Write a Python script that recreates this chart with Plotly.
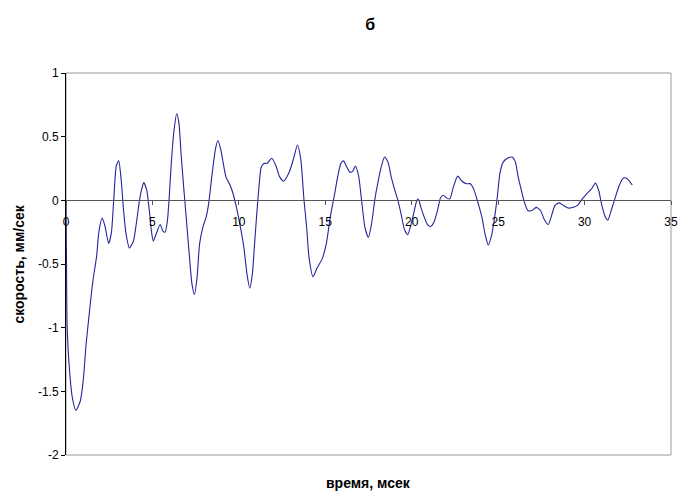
import plotly.graph_objects as go

# ---- data ----
time_ms = [0.0, 0.03, 0.06, 0.2, 0.38, 0.57, 0.82, 1.0, 1.15, 1.29, 1.48, 1.58, 1.77, 1.9,
           2.09, 2.25, 2.47, 2.63, 2.76, 2.91, 3.05, 3.2, 3.33, 3.48, 3.67, 3.9, 4.09, 4.25,
           4.4, 4.5, 4.67, 4.82, 4.95, 5.05, 5.2, 5.45, 5.6, 5.73, 5.86, 5.96, 6.09, 6.25,
           6.4, 6.53, 6.66, 6.81, 6.97, 7.16, 7.29, 7.43, 7.58, 7.73, 7.92, 8.11, 8.25, 8.43,
           8.63, 8.78, 8.95, 9.1, 9.26, 9.49, 9.67, 9.86, 10.09, 10.29, 10.47, 10.63, 10.78,
           10.91, 11.05, 11.16, 11.29, 11.45, 11.63, 11.9, 12.15, 12.34, 12.59, 12.91, 13.16,
           13.39, 13.58, 13.77, 13.92, 14.06, 14.29, 14.53, 14.82, 15.06, 15.29, 15.54, 15.71,
           15.9, 16.06, 16.25, 16.43, 16.59, 16.74, 16.93, 17.1, 17.29, 17.49, 17.67, 17.86,
           18.06, 18.25, 18.43, 18.63, 18.82, 19.0, 19.2, 19.39, 19.58, 19.77, 19.96, 20.15,
           20.3, 20.38, 20.53, 20.72, 20.91, 21.1, 21.29, 21.49, 21.67, 21.83, 22.02, 22.2,
           22.4, 22.66, 22.91, 23.16, 23.39, 23.58, 23.77, 23.92, 24.06, 24.25, 24.43, 24.63,
           24.82, 24.97, 25.1, 25.29, 25.54, 25.81, 26.0, 26.15, 26.34, 26.53, 26.72, 26.95,
           27.2, 27.45, 27.67, 27.9, 28.09, 28.29, 28.53, 28.78, 29.05, 29.35, 29.62, 29.86,
           30.15, 30.4, 30.63, 30.82, 31.0, 31.2, 31.35, 31.54, 31.77, 32.0, 32.25, 32.47,
           32.76]
velocity = [-0.02, -0.5, -0.96, -1.33, -1.56, -1.65, -1.58, -1.41, -1.15, -0.96, -0.72, -0.61,
            -0.44, -0.25, -0.14, -0.2, -0.34, -0.25, 0.0, 0.27, 0.31, 0.15, -0.08, -0.27,
            -0.375, -0.32, -0.16, 0.0, 0.10, 0.14, 0.08, -0.08, -0.25, -0.32, -0.27, -0.19,
            -0.24, -0.25, -0.17, 0.0, 0.29, 0.55, 0.68, 0.61, 0.36, 0.10, -0.16, -0.475, -0.66,
            -0.74, -0.61, -0.34, -0.21, -0.13, -0.03, 0.18, 0.39, 0.47, 0.40, 0.29, 0.18, 0.12,
            0.05, -0.055, -0.21, -0.37, -0.58, -0.69, -0.58, -0.34, -0.08, 0.10, 0.26, 0.29,
            0.29, 0.33, 0.27, 0.19, 0.15, 0.22, 0.325, 0.435, 0.325, 0.0, -0.21, -0.45, -0.60,
            -0.53, -0.46, -0.34, -0.13, 0.05, 0.18, 0.29, 0.31, 0.26, 0.22, 0.23, 0.27, 0.19,
            0.0, -0.21, -0.29, -0.19, 0.0, 0.15, 0.27, 0.34, 0.30, 0.18, 0.09, 0.0, -0.11,
            -0.23, -0.27, -0.19, -0.08, 0.0, 0.01, -0.055, -0.13, -0.19, -0.205, -0.17, -0.08,
            0.02, 0.04, 0.02, 0.01, 0.10, 0.19, 0.15, 0.13, 0.13, 0.09, 0.01, -0.06, -0.13,
            -0.27, -0.35, -0.27, -0.11, 0.05, 0.21, 0.30, 0.33, 0.34, 0.30, 0.19, 0.08, -0.02,
            -0.08, -0.08, -0.055, -0.08, -0.15, -0.19, -0.12, -0.04, -0.02, -0.04, -0.06,
            -0.055, -0.035, 0.01, 0.055, 0.09, 0.135, 0.075, -0.04, -0.13, -0.155, -0.08, 0.02,
            0.115, 0.175, 0.17, 0.12]

x_ticks = [0, 5, 10, 15, 20, 25, 30, 35]
y_ticks = [1, 0.5, 0, -0.5, -1, -1.5, -2]
y_tick_labels = ["1", "0.5", "0", "-0.5", "-1", "-1.5", "-2"]

chart_title = "б"
x_title = "время, мсек"
y_title = "скорость, мм/сек"

FONT = "Liberation Sans, Arial, sans-serif"
W, H = 688, 497
L, R, T, B = 66, 10, 73, 42

fig = go.Figure()
fig.add_trace(go.Scatter(
    x=time_ms, y=velocity, mode="lines",
    line=dict(color="#24249a", width=1.1, shape="spline", smoothing=0.6),
    showlegend=False, hoverinfo="x+y",
))

fig.update_layout(
    width=W, height=H,
    margin=dict(l=L, r=R, t=T, b=B),
    paper_bgcolor="white", plot_bgcolor="white",
    font=dict(family=FONT, size=12, color="#000"),
    title=dict(text=chart_title, x=346 / W, xanchor="center", xref="paper",
               y=1 - 24 / H, yanchor="middle",
               font=dict(family=FONT, size=16, weight="bold", color="#000")),
    shapes=[dict(type="rect", xref="paper", yref="paper", x0=0, x1=1, y0=0, y1=1,
                 line=dict(color="#9a9a9a", width=1), layer="below")],
    annotations=[
        dict(text=x_title, xref="paper", yref="paper", x=0.5, y=-(483 - (H - B)) / (H - T - B),
             xanchor="center", yanchor="middle", showarrow=False,
             font=dict(family=FONT, size=14, weight="bold", color="#000")),
        dict(text=y_title, xref="paper", yref="paper", x=-(L - 18) / (W - L - R), y=0.5,
             xanchor="center", yanchor="middle", textangle=-90, showarrow=False,
             font=dict(family=FONT, size=14, weight="bold", color="#000")),
    ],
)

fig.update_xaxes(
    range=[0, 35], tickvals=x_ticks, ticktext=[str(v) for v in x_ticks],
    showgrid=False, zeroline=False, showline=True, linecolor="#555", linewidth=1,
    ticks="outside", ticklen=4, tickcolor="#555", tickwidth=1,
    anchor="free", position=2 / 3, ticklabelstandoff=6,
    tickfont=dict(family=FONT, size=12, color="#000"),
)
fig.update_yaxes(
    range=[-2, 1], tickvals=y_ticks, ticktext=y_tick_labels,
    showgrid=False, zeroline=False, showline=True, linecolor="#000", linewidth=1,
    ticks="outside", ticklen=4, tickcolor="#000", tickwidth=1,
    tickfont=dict(family=FONT, size=12, color="#000"),
)

fig.write_html("out.html", config={"displayModeBar": False},
               post_script="document.body.style.margin='0';")
